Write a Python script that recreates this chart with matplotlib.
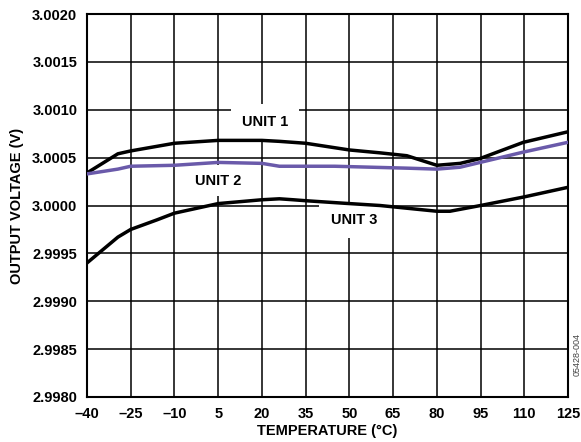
import matplotlib
matplotlib.use("Agg")
import matplotlib.pyplot as plt

plt.rcParams["font.family"] = ["Liberation Sans", "DejaVu Sans"]
plt.rcParams["axes.unicode_minus"] = True

# temperature (degC) and output voltage (V)
unit1_t = [-40, -29.4, -25, -10, 5, 20, 26, 35, 50, 60.5, 69.7, 80, 88, 94.8, 109.7, 125]
unit1_v = [3.00034, 3.00054, 3.00057, 3.00065, 3.00068, 3.00068, 3.00067, 3.00065,
           3.00058, 3.00055, 3.00052, 3.00042, 3.00044, 3.00049, 3.00066, 3.00077]

unit2_t = [-40, -29.4, -25, -10, 5, 20, 26, 45, 69.7, 80, 88, 110, 125]
unit2_v = [3.00033, 3.00038, 3.00041, 3.00042, 3.00045, 3.00044, 3.00041, 3.00041,
           3.00039, 3.00038, 3.00040, 3.00056, 3.00066]

unit3_t = [-40, -29.4, -25, -16, -10, 5, 20, 26, 30.7, 35, 50, 60.5, 80, 84.5, 95, 110, 125]
unit3_v = [2.99940, 2.99967, 2.99975, 2.99985, 2.99992, 3.00002, 3.00006, 3.00007,
           3.00006, 3.00005, 3.00002, 3.00000, 2.99994, 2.99994, 3.00000, 3.00009, 3.00019]

x_ticks = list(range(-40, 126, 15))
y_ticks = [2.9980, 2.9985, 2.9990, 2.9995, 3.0000, 3.0005, 3.0010, 3.0015, 3.0020]

fig = plt.figure(figsize=(5.81, 4.42), dpi=100)
ax = fig.add_axes([87 / 581, 1 - 397 / 442, 481 / 581, 383 / 442])

ax.set_xlim(-40, 125)
ax.set_ylim(2.9980, 3.0020)
ax.set_xticks(x_ticks)
ax.set_yticks(y_ticks)
ax.set_xticklabels([f"{t}".replace("-", "\u2013") for t in x_ticks])
ax.set_yticklabels([f"{v:.4f}" for v in y_ticks])
ax.tick_params(length=0, pad=7, labelsize=10.5)
for lab in ax.get_xticklabels() + ax.get_yticklabels():
    lab.set_fontweight("bold")
ax.grid(True, color="black", linewidth=1.1)
ax.set_axisbelow(True)
for sp in ax.spines.values():
    sp.set_linewidth(1.5)

ax.plot(unit1_t, unit1_v, color="black", linewidth=2.5, zorder=3)
ax.plot(unit2_t, unit2_v, color="#6a5aaa", linewidth=2.5, zorder=3)
ax.plot(unit3_t, unit3_v, color="black", linewidth=2.5, zorder=3)

box = dict(facecolor="white", edgecolor="none", pad=8)
ax.text(21, 3.00087, "UNIT 1", ha="center", va="center", fontsize=10.5,
        fontweight="bold", bbox=box, zorder=2)
ax.text(5, 3.00026, "UNIT 2", ha="center", va="center", fontsize=10.5,
        fontweight="bold", bbox=dict(facecolor="white", edgecolor="none", pad=6), zorder=2)
ax.text(51.5, 2.99985, "UNIT 3", ha="center", va="center", fontsize=10.5,
        fontweight="bold", bbox=box, zorder=2)

ax.set_xlabel("TEMPERATURE (\u00b0C)", fontsize=10.5, fontweight="bold", labelpad=2)
ax.set_ylabel("OUTPUT VOLTAGE (V)", fontsize=10.5, fontweight="bold", labelpad=6)

fig.text(577 / 581, 1 - 354 / 442, "05428-004", rotation=90, ha="center", va="center",
         fontsize=6.5, color="#444444")

fig.savefig("out.png", dpi=100)
